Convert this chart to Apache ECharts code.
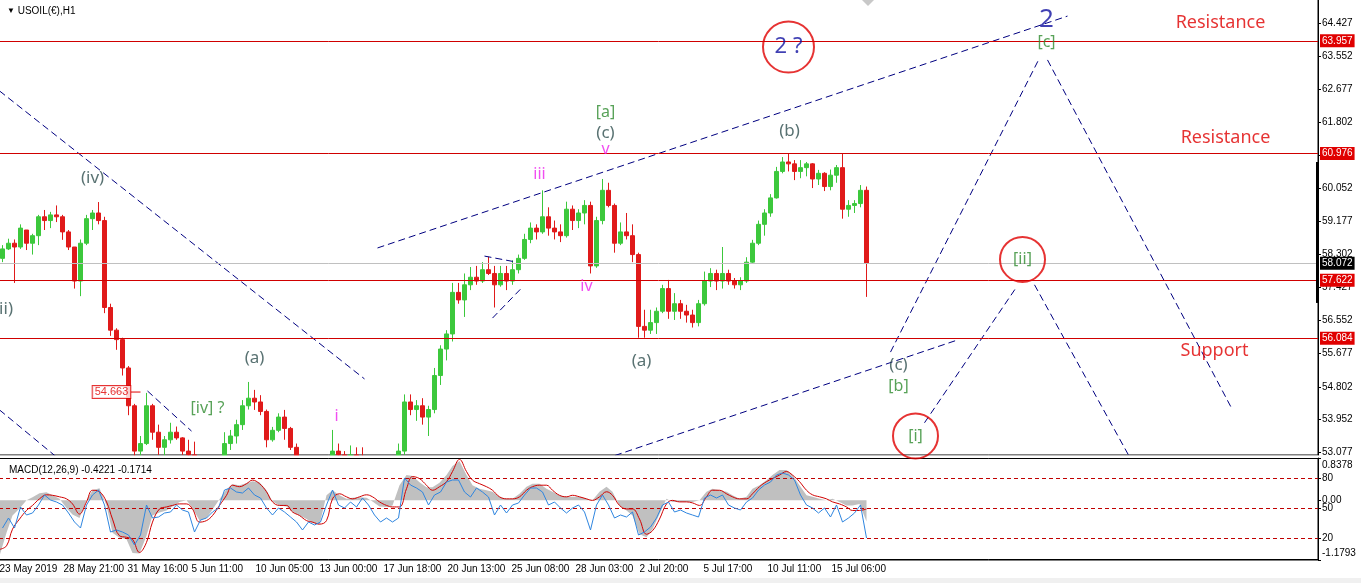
<!DOCTYPE html>
<html>
<head>
<meta charset="utf-8">
<title>USOIL(€),H1</title>
<script src="https://cdn.jsdelivr.net/npm/echarts@6.0.0/dist/echarts.min.js"></script>
<style>
  html, body { margin: 0; padding: 0; background: #fff; }
  #chart { width: 1361px; height: 583px; }
</style>
</head>
<body>
<div id="chart"></div>
<script>
// one candle per 6 hourly bars: [open, close, low, high]
const candles = [
  [58.20, 58.45, 58.10, 58.55], [58.45, 58.60, 58.42, 58.72], [58.60, 58.50, 57.55, 58.70], [58.50, 59.00, 58.45, 59.10],
  [58.95, 58.60, 58.42, 58.95], [58.60, 58.80, 58.30, 58.85], [58.80, 59.30, 58.55, 59.35], [59.30, 59.20, 58.95, 59.48],
  [59.20, 59.35, 59.00, 59.43], [59.35, 59.30, 59.16, 59.60], [59.30, 58.90, 58.69, 59.35], [58.90, 58.50, 58.42, 58.95],
  [58.50, 57.60, 57.40, 58.42], [57.60, 58.60, 57.20, 58.70], [58.60, 59.25, 58.55, 59.35], [59.25, 59.40, 58.95, 59.48],
  [59.40, 59.20, 59.10, 59.69], [59.20, 56.90, 56.75, 59.30], [56.90, 56.30, 56.15, 57.00], [56.30, 56.05, 55.78, 56.35],
  [56.05, 55.30, 55.10, 56.10], [55.30, 54.30, 54.05, 55.35], [54.30, 53.10, 52.90, 54.35], [53.10, 53.30, 52.90, 53.50],
  [53.30, 54.30, 53.26, 54.64], [54.30, 53.60, 53.40, 54.35], [53.60, 53.20, 53.00, 53.80], [53.20, 53.40, 52.90, 53.50],
  [53.40, 53.60, 53.30, 53.85], [53.60, 53.45, 53.40, 53.75], [53.45, 53.10, 53.00, 53.47], [53.10, 53.00, 52.90, 53.40],
  [53.00, 52.80, 52.60, 53.35], [52.80, 52.50, 52.20, 52.90], [52.50, 52.10, 51.80, 52.60], [52.10, 52.30, 51.60, 52.50],
  [52.30, 52.80, 52.20, 52.95], [52.80, 53.30, 52.70, 53.60], [53.30, 53.50, 53.13, 53.66], [53.50, 53.80, 53.30, 53.93],
  [53.80, 54.30, 53.66, 54.45], [54.30, 54.50, 54.20, 54.93], [54.50, 54.40, 54.19, 54.72], [54.40, 54.15, 54.05, 54.58],
  [54.15, 53.40, 53.20, 54.20], [53.40, 53.65, 53.35, 53.74], [53.65, 54.00, 53.60, 54.10], [54.00, 53.70, 53.40, 54.19],
  [53.70, 53.20, 53.13, 53.74], [53.20, 52.90, 52.70, 53.30], [52.90, 52.30, 52.10, 52.95], [52.30, 52.00, 51.80, 52.50],
  [52.00, 52.20, 51.60, 52.30], [52.20, 52.50, 51.90, 52.60], [52.50, 52.80, 52.30, 52.90], [52.80, 53.10, 52.70, 53.66],
  [53.10, 53.00, 52.70, 53.30], [53.00, 52.70, 52.50, 53.10], [52.70, 53.00, 52.50, 53.25], [53.00, 52.80, 52.60, 53.20],
  [52.80, 52.40, 52.20, 53.20], [52.40, 52.00, 51.80, 52.60], [52.00, 51.80, 51.60, 52.20], [51.80, 52.10, 51.70, 52.30],
  [52.10, 52.30, 51.90, 52.50], [52.30, 52.60, 52.10, 52.80], [52.60, 53.10, 52.40, 53.30], [53.10, 54.40, 53.00, 54.60],
  [54.40, 54.20, 54.05, 54.60], [54.20, 54.30, 53.90, 54.45], [54.30, 54.00, 53.80, 54.50], [54.00, 54.20, 53.50, 54.30],
  [54.20, 55.10, 54.10, 55.30], [55.10, 55.80, 54.85, 55.90], [55.80, 56.20, 55.50, 56.30], [56.20, 57.30, 56.00, 57.55],
  [57.30, 57.10, 57.00, 57.55], [57.10, 57.50, 56.65, 57.80], [57.50, 57.70, 57.36, 57.97], [57.70, 57.60, 57.50, 58.00],
  [57.60, 57.90, 57.55, 58.10], [57.90, 57.80, 57.76, 58.24], [57.80, 57.50, 56.90, 58.00], [57.50, 57.80, 57.45, 58.00],
  [57.80, 57.60, 57.36, 58.00], [57.60, 57.90, 57.50, 58.15], [57.90, 58.20, 57.80, 58.30], [58.20, 58.70, 58.16, 58.85],
  [58.70, 59.00, 58.60, 59.15], [59.00, 58.90, 58.70, 59.10], [58.90, 59.30, 58.85, 60.00], [59.30, 59.00, 58.80, 59.55],
  [59.00, 58.90, 58.70, 59.20], [58.90, 58.80, 58.63, 59.10], [58.80, 59.50, 58.75, 59.70], [59.50, 59.20, 58.95, 59.60],
  [59.20, 59.40, 59.00, 59.50], [59.40, 59.60, 59.10, 59.74], [59.60, 58.00, 57.80, 59.70], [58.00, 59.20, 57.95, 59.30],
  [59.20, 60.00, 59.10, 60.30], [60.00, 59.60, 59.55, 60.20], [59.60, 58.60, 58.35, 59.65], [58.60, 58.90, 58.55, 59.15],
  [58.90, 58.80, 58.70, 59.40], [58.80, 58.30, 58.10, 59.10], [58.30, 56.40, 56.10, 58.35], [56.40, 56.30, 56.10, 56.84],
  [56.30, 56.50, 56.20, 56.84], [56.50, 56.80, 56.20, 56.90], [56.80, 57.40, 56.75, 57.50], [57.40, 56.80, 56.60, 57.63],
  [56.80, 57.00, 56.57, 57.28], [57.00, 56.80, 56.60, 57.10], [56.80, 56.70, 56.50, 56.97], [56.70, 56.50, 56.37, 56.84],
  [56.50, 57.00, 56.40, 57.10], [57.00, 57.60, 56.95, 57.85], [57.60, 57.80, 57.44, 57.94], [57.80, 57.60, 57.36, 57.90],
  [57.60, 57.80, 57.40, 58.50], [57.80, 57.60, 57.50, 57.90], [57.60, 57.50, 57.40, 57.68], [57.50, 57.60, 57.36, 57.70],
  [57.60, 58.10, 57.55, 58.23], [58.10, 58.60, 58.08, 58.69], [58.60, 59.10, 58.55, 59.20], [59.10, 59.40, 58.80, 59.50],
  [59.40, 59.80, 59.30, 59.90], [59.80, 60.50, 59.78, 60.62], [60.50, 60.75, 60.45, 60.88], [60.75, 60.70, 60.50, 60.98],
  [60.70, 60.50, 60.27, 60.80], [60.50, 60.60, 60.32, 60.80], [60.60, 60.70, 60.37, 60.75], [60.70, 60.30, 60.06, 60.72],
  [60.30, 60.45, 60.14, 60.54], [60.45, 60.10, 59.98, 60.48], [60.10, 60.40, 60.00, 60.55], [60.40, 60.60, 60.20, 60.67],
  [60.60, 59.50, 59.25, 60.98], [59.50, 59.60, 59.30, 59.74], [59.60, 59.65, 59.40, 59.74], [59.65, 60.00, 59.55, 60.14],
  [60.00, 58.07, 57.18, 60.10]
];
const barsPerCandle = 6;
const barCount = 1319;

const timeLabels = ['23 May 2019', '28 May 21:00', '31 May 16:00', '5 Jun 11:00', '10 Jun 05:00', '13 Jun 00:00',
  '17 Jun 18:00', '20 Jun 13:00', '25 Jun 08:00', '28 Jun 03:00', '2 Jul 20:00', '5 Jul 17:00', '10 Jul 11:00', '15 Jul 06:00'];
const barsPerTimeLabel = 64;

const priceTicks = [64.427, 63.552, 62.677, 61.802, 60.927, 60.052, 59.177, 58.302, 57.427, 56.552, 55.677, 54.802, 53.952, 53.077];
const levels = [63.957, 60.976, 57.622, 56.084];
const bidPrice = 58.072;
const priceTag = [112, 54.663];

// MACD(12,26,9): one value every 20/3 bars
const macdMain = [
  -1.10, -0.64, -0.30, -0.16, 0.00, 0.06, 0.14, 0.16, 0.10, 0.03,
  -0.15, -0.28, -0.35, 0.00, 0.20, 0.24, -0.10, -0.64, -0.74, -0.77,
  -1.04, -1.05, -0.70, -0.30, -0.24, -0.20, -0.12, -0.03, 0.00, -0.15,
  -0.40, -0.35, -0.18, 0.02, 0.22, 0.32, 0.30, 0.34, 0.38, 0.36,
  0.20, -0.02, -0.10, -0.12, -0.23, -0.30, -0.37, -0.45, -0.48, 0.10,
  0.20, 0.10, 0.03, 0.05, 0.06, 0.05, -0.02, -0.12, -0.13, -0.10,
  0.30, 0.50, 0.48, 0.36, 0.26, 0.26, 0.35, 0.50, 0.68,
  0.78, 0.50, 0.30, 0.23, 0.20, 0.17, 0.07, 0.03, 0.03, 0.13,
  0.27, 0.33, 0.33, 0.23, 0.17, 0.10, 0.07, 0.07, 0.07, 0.03,
  0.00, 0.17, 0.27, 0.17, -0.10, -0.20, -0.30, -0.67, -0.73, -0.57,
  -0.27, 0.03, -0.03, -0.03, -0.03, -0.03, 0.00, 0.17, 0.23, 0.20,
  0.17, 0.10, 0.03, 0.07, 0.23, 0.30, 0.40, 0.50, 0.60, 0.60,
  0.50, 0.30, 0.10, 0.07, 0.03, 0.00, 0.03, -0.03, -0.10, -0.10,
  -0.07, -0.42
];
const macdSignal = [
  -0.97, -0.90, -0.57, -0.37, -0.20, -0.10, 0.03, 0.11, 0.10, 0.07,
  0.03, -0.07, -0.27, -0.03, 0.20, 0.17, -0.03, -0.37, -0.70, -0.73,
  -0.77, -1.03, -0.83, -0.43, -0.17, -0.13, -0.10, -0.07, -0.07, -0.17,
  -0.43, -0.40, -0.30, -0.10, 0.10, 0.30, 0.27, 0.33, 0.40, 0.33,
  0.17, -0.03, -0.10, -0.10, -0.23, -0.30, -0.40, -0.43, -0.47, -0.40,
  0.03, 0.13, 0.07, 0.03, 0.07, 0.11, 0.07, -0.03, -0.10, -0.13,
  -0.13, 0.23, 0.47, 0.43, 0.30, 0.20, 0.27, 0.37, 0.57,
  0.81, 0.57, 0.40, 0.33, 0.27, 0.20, 0.07, 0.03, 0.03, 0.07,
  0.20, 0.27, 0.30, 0.30, 0.20, 0.10, 0.07, 0.10, 0.07, 0.03,
  0.00, 0.07, 0.17, 0.10, -0.10, -0.17, -0.17, -0.37, -0.67, -0.60,
  -0.37, -0.07, 0.00, -0.03, -0.03, -0.05, -0.10, 0.07, 0.20, 0.20,
  0.13, 0.07, 0.03, 0.03, 0.13, 0.27, 0.37, 0.43, 0.50, 0.57,
  0.50, 0.37, 0.20, 0.11, 0.07, 0.03, -0.03, -0.07, -0.13, -0.20,
  -0.20, -0.17
];
const macdStep = 20 / 3;
const macdTicks = [0.8378, 0, -1.1793];
const macdTickLabels = ['0.8378', '0.00', '-1.1793'];

// blue oscillator (0-100), one value per candle
const oscillator = [
  30, 40, 30, 51, 43, 45, 53, 63, 58, 56, 53, 45, 36, 30, 53, 63, 68, 53, 26, 28,
  26, 23, 13, 23, 53, 40, 41, 45, 46, 53, 48, 46, 26, 38, 40, 46, 50, 68, 70, 66,
  65, 70, 63, 60, 50, 43, 50, 46, 41, 36, 28, 36, 33, 36, 53, 68, 53, 50, 56, 51,
  60, 53, 43, 36, 40, 36, 40, 80, 73, 70, 66, 53, 63, 66, 76, 78, 78, 66, 61, 70,
  66, 61, 43, 53, 45, 53, 55, 63, 70, 70, 66, 53, 56, 50, 45, 50, 53, 46, 28, 53,
  63, 53, 40, 43, 41, 46, 23, 26, 31, 40, 53, 56, 46, 48, 45, 43, 41, 60, 63, 60,
  63, 53, 50, 48, 56, 60, 68, 73, 76, 83, 85, 83, 78, 63, 53, 50, 45, 50, 41, 53,
  36, 40, 45, 53, 20
];
const oscLevels = [80, 50, 20];

// drawn objects: [bar, price]
const trendLines = [
  [[0, 62.63], [365, 55.01]],
  [[0, 54.19], [70, 52.66]],
  [[148, 54.69], [192, 53.63]],
  [[378, 58.475], [1068, 64.61]],
  [[605, 52.89], [958, 56.04]],
  [[485, 58.26], [517, 58.10]],
  [[493, 56.62], [523, 57.44]],
  [[891, 55.72], [1040, 63.50]],
  [[1048, 63.45], [1233, 54.19]],
  [[925, 53.85], [1017, 57.44]],
  [[1035, 57.50], [1131, 52.90]]
];
const slateLabels = [['(iv)', 93, 60.32], ['(ii)', 4, 56.86], ['(a)', 255, 55.56], ['(c)', 606, 61.51],
  ['(a)', 642, 55.48], ['(b)', 790, 61.57], ['(c)', 899, 55.38]];
const greenLabels = [['[iv] ?', 208, 54.22], ['[a]', 606, 62.05], ['[b]', 899, 54.82], ['[c]', 1047, 63.90],
  ['[ii]', 1023, 58.17], ['[i]', 916, 53.50]];
const magentaLabels = [['i', 337, 54.03], ['iii', 540, 60.43], ['iv', 587, 57.47], ['v', 606, 61.09]];
const waveTwo = [['2', 1047, 64.53]];
const waveTwoQuery = [['2 ?', 789, 63.79]];
const zoneLabels = [['Resistance', 1221, 64.43], ['Resistance', 1226, 61.38], ['Support', 1215, 55.75]];
const bigCircles = [[789, 63.79]];
const smallCircles = [[1023, 58.17], [916, 53.50]];
const axisMarker = [[1318, 60.75], [1318, 57.02]];

const FONT = 'Liberation Sans';
const WAVE_FONT = 'Noto Sans';

const bars = Array.from({ length: barCount }, (_, i) => i);
const isTimeTick = i => i % barsPerTimeLabel === 0 && i / barsPerTimeLabel < timeLabels.length;

function textSeries(rows, color, size) {
  return {
    type: 'scatter', xAxisIndex: 0, yAxisIndex: 0, silent: true, z: 10,
    symbolSize: 1, itemStyle: { color: 'rgba(0,0,0,0)' },
    data: rows.map(r => ({ name: r[0], value: [r[1], r[2]] })),
    label: { show: true, position: 'inside', formatter: p => p.name, color: color, fontSize: size, fontFamily: WAVE_FONT }
  };
}
function circleSeries(rows, size) {
  return {
    type: 'scatter', xAxisIndex: 0, yAxisIndex: 0, silent: true, z: 9, clip: false,
    symbol: 'circle', symbolSize: size, data: rows,
    itemStyle: { color: 'rgba(0,0,0,0)', borderColor: '#e00000', borderWidth: 2 }
  };
}

let mychart = echarts.init(document.getElementById('chart'))
mychart.setOption({
  animation: false,
  backgroundColor: '#fff',
  title: [
    {
      text: '{t|▼} USOIL(€),H1', left: 2, top: 1, z: 20,
      textStyle: { fontSize: 10, fontWeight: 'normal', fontFamily: FONT, color: '#000', rich: { t: { fontSize: 8, color: '#000' } } }
    },
    {
      text: 'MACD(12,26,9) -0.4221 -0.1714', left: 4, top: 460, z: 20,
      textStyle: { fontSize: 10, fontWeight: 'normal', fontFamily: FONT, color: '#000' }
    }
  ],
  grid: [
    { left: -1, top: -1, width: barCount, height: 456, show: true, borderColor: '#000', borderWidth: 1, outerBoundsMode: 'none' },
    { left: -1, top: 458, width: barCount, height: 102, show: true, borderColor: '#000', borderWidth: 1, outerBoundsMode: 'none' }
  ],
  xAxis: [
    { type: 'category', gridIndex: 0, data: bars, show: false },
    {
      type: 'category', gridIndex: 1, data: bars,
      axisLine: { lineStyle: { color: '#000' } },
      axisTick: { show: true, length: 3, interval: isTimeTick, alignWithLabel: true, lineStyle: { color: '#000' } },
      axisLabel: {
        interval: isTimeTick, align: 'left', margin: 4, color: '#000', fontSize: 10, fontFamily: FONT,
        formatter: (v, i) => timeLabels[i / barsPerTimeLabel]
      }
    }
  ],
  yAxis: [
    {
      type: 'value', gridIndex: 0, position: 'right', min: 52.997, max: 65.062, splitLine: { show: false },
      axisLine: { show: true, lineStyle: { color: '#000' } },
      axisTick: { show: true, length: 3, customValues: priceTicks, lineStyle: { color: '#000' } },
      axisLabel: { customValues: priceTicks, formatter: v => v.toFixed(3), margin: 4, color: '#000', fontSize: 10, fontFamily: FONT }
    },
    {
      type: 'value', gridIndex: 1, position: 'right', min: -1.1793, max: 0.8378, splitLine: { show: false },
      axisLine: { show: true, lineStyle: { color: '#000' } },
      axisTick: { show: true, length: 3, customValues: macdTicks, lineStyle: { color: '#000' } },
      axisLabel: {
        customValues: macdTicks, margin: 4, color: '#000', fontSize: 10, lineHeight: 14, fontFamily: FONT,
        formatter: v => {
          const t = macdTickLabels[macdTicks.indexOf(v)];
          return v > 0 ? '\n' + t : v < 0 ? t + '\n' : t;
        }
      }
    },
    {
      type: 'value', gridIndex: 1, position: 'right', min: -2, max: 100, splitLine: { show: false },
      axisLine: { show: false },
      axisTick: { show: true, length: 3, customValues: oscLevels, lineStyle: { color: '#000' } },
      axisLabel: { customValues: oscLevels, margin: 4, color: '#000', fontSize: 10, fontFamily: FONT }
    }
  ],
  series: [
    {
      type: 'candlestick', name: 'USOIL', xAxisIndex: 0, yAxisIndex: 0,
      dimensions: ['bar', 'open', 'close', 'lowest', 'highest'],
      encode: { x: 'bar', y: ['open', 'close', 'lowest', 'highest'] },
      data: candles.map((c, i) => [i * barsPerCandle + 3].concat(c)),
      barWidth: 4, clip: true, z: 3,
      itemStyle: { color: '#3cc83c', color0: '#e01a1a', borderColor: '#3cc83c', borderColor0: '#e01a1a', borderWidth: 1 },
      markLine: {
        silent: true, symbol: 'none', animation: false, precision: 3,
        lineStyle: { color: '#d00000', width: 1, type: 'solid' },
        label: {
          position: 'end', distance: 2, formatter: p => Number(p.value).toFixed(3),
          color: '#fff', backgroundColor: '#e00000', padding: [2, 2, 1, 2], fontSize: 10, fontFamily: FONT
        },
        data: levels.map(v => ({ yAxis: v })).concat([
          { yAxis: bidPrice, lineStyle: { color: '#c0c0c0' }, label: { backgroundColor: '#000' } }
        ])
      }
    },
    ...trendLines.map(seg => ({
      type: 'line', xAxisIndex: 0, yAxisIndex: 0, data: seg, symbol: 'none', silent: true, z: 4,
      lineStyle: { color: '#000080', width: 1, type: [7, 4] }
    })),
    {
      type: 'line', xAxisIndex: 0, yAxisIndex: 0, symbol: 'none', silent: true, z: 4,
      data: [priceTag, [priceTag[0] + 29, priceTag[1]]],
      lineStyle: { color: '#e00000', width: 1 }
    },
    {
      type: 'scatter', xAxisIndex: 0, yAxisIndex: 0, silent: true, z: 11,
      symbolSize: 1, itemStyle: { color: 'rgba(0,0,0,0)' }, data: [priceTag],
      label: {
        show: true, position: 'inside', formatter: p => p.value[1].toFixed(3), color: '#e00000',
        backgroundColor: '#fff', borderColor: '#e00000', borderWidth: 1, padding: [1, 2, 0, 2], fontSize: 11, fontFamily: FONT
      }
    },
    {
      type: 'line', xAxisIndex: 0, yAxisIndex: 0, symbol: 'none', silent: true, z: 5, clip: false,
      data: axisMarker, lineStyle: { color: '#000', width: 3 }
    },
    circleSeries(bigCircles, 51),
    circleSeries(smallCircles, 45),
    textSeries(slateLabels, '#2f4f4f', 17),
    textSeries(greenLabels, '#2e8b2e', 16),
    textSeries(magentaLabels, '#ee22ee', 16),
    textSeries(waveTwo, '#1010a0', 26),
    textSeries(waveTwoQuery, '#1010a0', 22),
    textSeries(zoneLabels, '#e00000', 18),
    {
      type: 'line', name: 'MACD', xAxisIndex: 1, yAxisIndex: 1, symbol: 'none', silent: true, z: 12,
      data: macdMain.map((v, i) => [Math.round(i * macdStep), v]),
      lineStyle: { width: 0 }, areaStyle: { color: '#c0c0c0', opacity: 1 }
    },
    {
      type: 'line', name: 'Signal', xAxisIndex: 1, yAxisIndex: 1, symbol: 'none', silent: true, z: 14, smooth: 0.4,
      data: macdSignal.map((v, i) => [Math.round(i * macdStep), v]),
      lineStyle: { color: '#d00000', width: 1 }
    },
    {
      type: 'line', name: 'Oscillator', xAxisIndex: 1, yAxisIndex: 2, symbol: 'none', silent: true, z: 15,
      data: oscillator.map((v, i) => [i * barsPerCandle + 3, v]),
      lineStyle: { color: '#2f86e0', width: 1 },
      markLine: {
        silent: true, symbol: 'none', animation: false, z: 13, label: { show: false },
        lineStyle: { color: '#c00000', width: 1, type: [4, 3] },
        data: oscLevels.map(v => ({ yAxis: v }))
      }
    }
  ],
  graphic: [
    // indicator window frame, covering price bars that fall below the main window
    { type: 'rect', z: 8, silent: true, shape: { x: -2, y: 455.5, width: 1320, height: 2.5 }, style: { fill: '#fff' } },
    { type: 'rect', z: 8, silent: true, shape: { x: -2, y: 458.5, width: 1320, height: 101 }, style: { fill: '#fff', stroke: '#000', lineWidth: 1 } },
    { type: 'rect', z: 8, silent: true, shape: { x: 0, y: 578, width: 1361, height: 5 }, style: { fill: '#f0f0f0' } },
    { type: 'polygon', z: 8, silent: true, shape: { points: [[862, 0], [874, 0], [868, 6]] }, style: { fill: '#c8c8c8' } }
  ]
})
</script>
</body>
</html>
